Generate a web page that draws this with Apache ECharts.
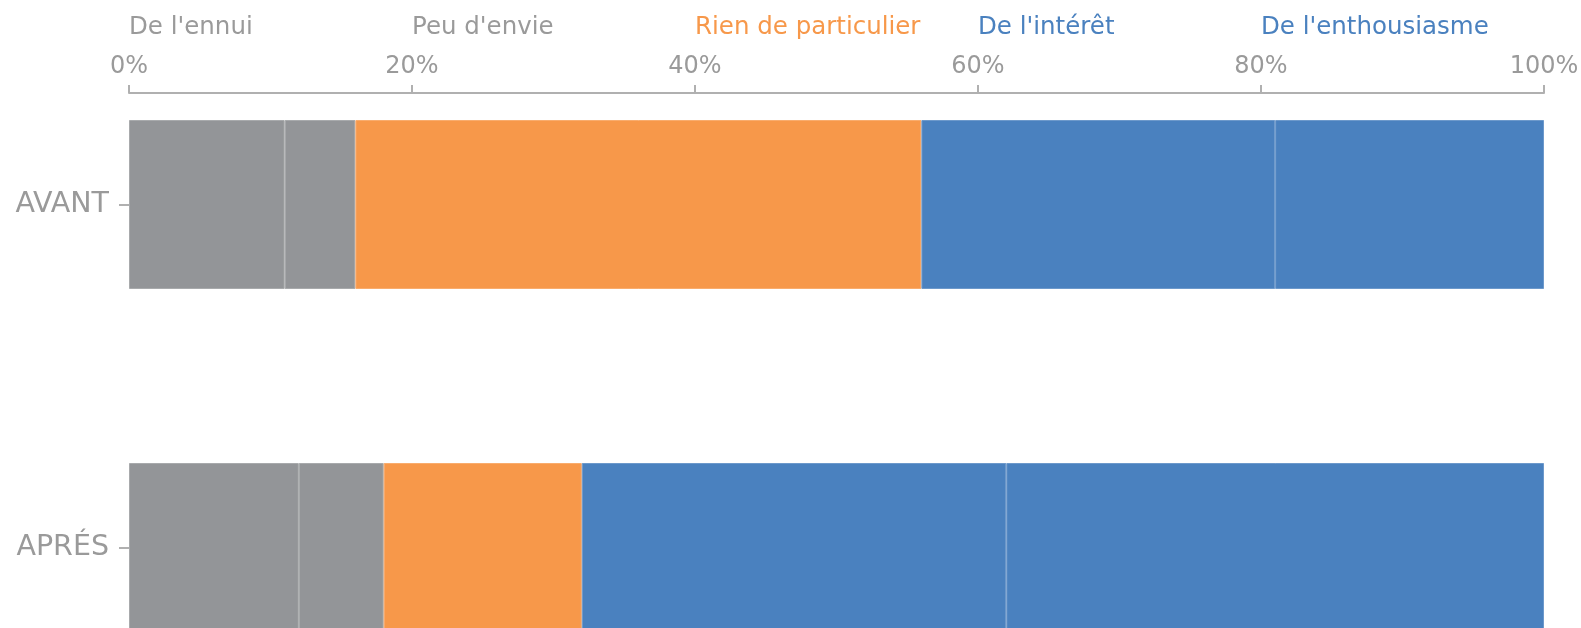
<!DOCTYPE html>
<html>
<head>
<meta charset="utf-8">
<script src="https://cdn.jsdelivr.net/npm/echarts@6/dist/echarts.min.js"></script>
<style>
  html, body { margin: 0; padding: 0; background: #fff; }
  #chart { width: 1581px; height: 628px; }
</style>
</head>
<body>
<div id="chart"></div>
<script>
// Catégories (axe vertical)
const periodes = ['AVANT', 'APRÉS'];

// Réponses, dans l'ordre d'empilement
const reponses = ["De l'ennui", "Peu d'envie", 'Rien de particulier', "De l'intérêt", "De l'enthousiasme"];
const couleurs = ['#939598', '#939598', '#F7984A', '#4A81BF', '#4A81BF'];
// Bordure un peu plus claire que le remplissage
const bordures = ['#A8AAAC', '#A8AAAC', '#F9AC6D', '#6D99CB', '#6D99CB'];
const couleursTexte = ['#9a9a9a', '#9a9a9a', '#F7984A', '#4A81BF', '#4A81BF'];

// Pourcentages par réponse : [AVANT, APRÉS]
const ennui = [11, 12];
const peuEnvie = [5, 6];
const rien = [40, 14];
const interet = [25, 30];
const enthousiasme = [19, 38];

const valeurs = [ennui, peuEnvie, rien, interet, enthousiasme];

const police = 'DejaVu Sans';
const gris = '#9a9a9a';
const grisAxe = '#b0b0b0';

const chart = echarts.init(document.getElementById('chart'));

chart.setOption({
    animation: false,
    grid: { left: 129, right: 37, top: 33, bottom: -91, outerBoundsMode: 'none' },
    xAxis: [
        {
            type: 'value',
            position: 'top',
            offset: -60,
            min: 0,
            max: 100,
            interval: 20,
            axisLine: { show: true, lineStyle: { color: grisAxe, width: 2 } },
            axisTick: { show: true, length: 8, lineStyle: { color: grisAxe, width: 2 } },
            splitLine: { show: false },
            axisLabel: {
                formatter: '{value}%',
                color: gris,
                fontFamily: police,
                fontSize: 24,
                margin: 14
            }
        },
        {
            // Libellés des réponses, alignés sur les graduations
            type: 'value',
            position: 'top',
            offset: -60,
            min: 0,
            max: 100,
            interval: 20,
            axisLine: { show: false },
            axisTick: { show: false },
            splitLine: { show: false },
            axisLabel: {
                align: 'left',
                fontFamily: police,
                fontSize: 24.5,
                margin: 53,
                formatter: (v) => reponses[v / 20] || '',
                color: (v, i) => couleursTexte[i] || gris
            }
        }
    ],
    yAxis: {
        type: 'category',
        inverse: true,
        data: periodes,
        axisLine: { show: false },
        axisTick: { show: true, alignWithLabel: true, length: 10, lineStyle: { color: grisAxe, width: 2 } },
        axisLabel: {
            color: gris,
            fontFamily: police,
            fontSize: 28.5,
            margin: 20
        }
    },
    series: reponses.map((nom, i) => ({
        name: nom,
        type: 'bar',
        stack: 'total',
        barWidth: 169,
        data: valeurs[i],
        itemStyle: {
            color: couleurs[i],
            borderColor: bordures[i],
            borderWidth: 1
        }
    }))
});
</script>
</body>
</html>
